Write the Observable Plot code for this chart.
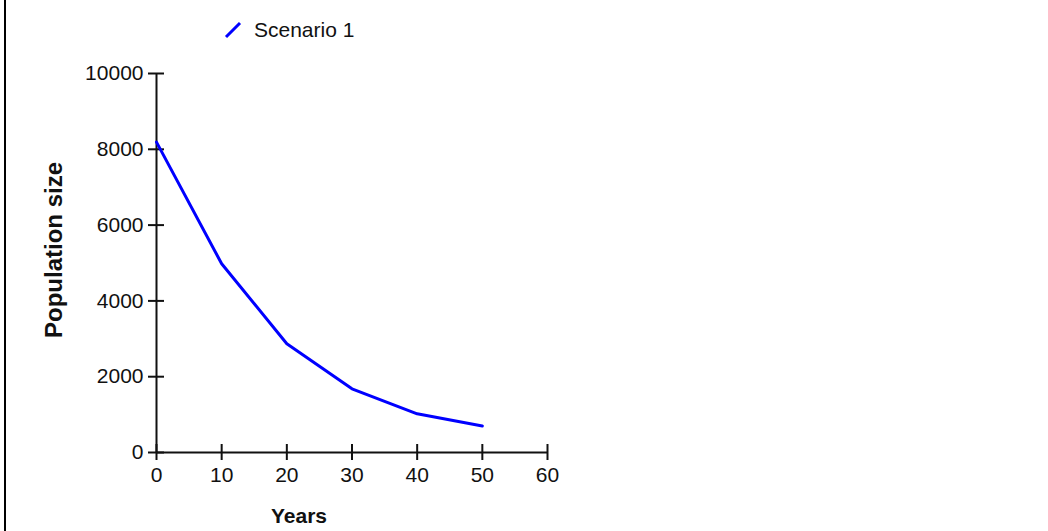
<!DOCTYPE html>
<html>
<head>
<meta charset="utf-8">
<script src="https://cdn.jsdelivr.net/npm/d3@7"></script>
<script src="https://cdn.jsdelivr.net/npm/@observablehq/plot@0.6"></script>
<style>
  html, body { margin: 0; padding: 0; background: #fff; }
  #wrap { position: relative; width: 1048px; height: 531px; overflow: hidden; font-family: "Liberation Sans", Arial, sans-serif; }
  #border { position: absolute; left: 4px; top: 0; width: 2px; height: 531px; background: #000; }
  #legend { position: absolute; left: 224px; top: 18px; display: flex; align-items: center; font-size: 21px; color: #111; }
  #legend svg { margin-right: 12px; }
</style>
</head>
<body>
<div id="wrap">
  <div id="border"></div>
  <div id="chart"></div>
  <div id="legend"></div>
</div>
<script>
// Data
const years = [0, 10, 20, 30, 40, 50];
const scenario1 = [8190, 4980, 2870, 1680, 1020, 700];
const seriesName = "Scenario 1";
const xTicks = [0, 10, 20, 30, 40, 50, 60];
const yTicks = [0, 2000, 4000, 6000, 8000, 10000];
const xLabel = "Years";
const yLabel = "Population size";

const data = years.map((y, i) => ({year: y, pop: scenario1[i]}));

const chart = Plot.plot({
  width: 1048,
  height: 531,
  marginLeft: 156,
  marginRight: 501,
  marginTop: 73,
  marginBottom: 79,
  style: {fontFamily: "'Liberation Sans', Arial, sans-serif", fontSize: "21px", color: "#111", background: "transparent"},
  x: {domain: [0, 60]},
  y: {domain: [0, 10000]},
  marks: [
    Plot.axisX({ticks: xTicks, tickSize: 0, tickPadding: 15, label: null, tickFormat: d => String(d)}),
    Plot.axisY({ticks: yTicks, tickSize: 0, tickPadding: 13, label: null, tickFormat: d => String(d)}),
    Plot.ruleX([0], {y1: 0, y2: 10000, stroke: "#111", strokeWidth: 2}),
    Plot.ruleY([0], {x1: 0, x2: 60, stroke: "#111", strokeWidth: 2}),
    Plot.ruleX(xTicks, {x: d => d, y1: 0, y2: 0, insetTop: 8, insetBottom: 8, stroke: "#111", strokeWidth: 2}),
    Plot.ruleY(yTicks, {y: d => d, x1: 0, x2: 0, insetLeft: 8, insetRight: 8, stroke: "#111", strokeWidth: 2}),
    Plot.line(data, {x: "year", y: "pop", stroke: "#0000ff", strokeWidth: 3}),
    Plot.text([xLabel], {frameAnchor: "bottom", dx: -53, dy: 64, textAnchor: "middle", lineAnchor: "middle", fontWeight: "bold", fontSize: 21}),
    Plot.text([yLabel], {frameAnchor: "left", rotate: -90, dx: -102, dy: -13, textAnchor: "middle", lineAnchor: "middle", fontWeight: "bold", fontSize: 24})
  ]
});
document.getElementById("chart").appendChild(chart);

const legend = document.getElementById("legend");
legend.innerHTML = `<svg width="18" height="18" viewBox="0 0 18 18"><line x1="2" y1="16" x2="16" y2="2" stroke="#0000ff" stroke-width="3"/></svg><span>${seriesName}</span>`;
</script>
</body>
</html>
